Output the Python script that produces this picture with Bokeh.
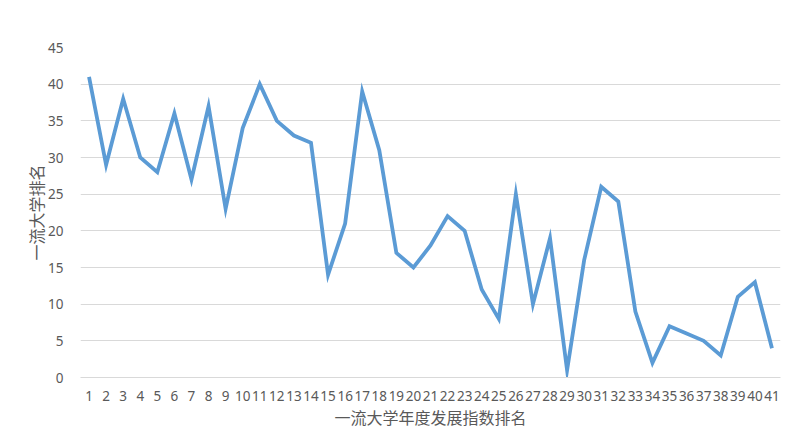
from bokeh.plotting import figure
from bokeh.models import FixedTicker, Range1d, ColumnDataSource
from bokeh.embed import file_html
from bokeh.resources import INLINE

index_rank = list(range(1, 42))
univ_rank = [41, 29, 38, 30, 28, 36, 27, 37, 23, 34, 40, 35, 33, 32, 14, 21, 39, 31,
             17, 15, 18, 22, 20, 12, 8, 25, 10, 19, 1, 16, 26, 24, 9, 2, 7, 6, 5, 3,
             11, 13, 4]
y_ticks = [0, 5, 10, 15, 20, 25, 30, 35, 40, 45]

src = ColumnDataSource(dict(x=index_rank, y=univ_rank))

p = figure(width=790, height=437, output_backend="svg", toolbar_location=None,
           x_range=Range1d(0.5, 41.5), y_range=Range1d(0, 45),
           min_border_left=80, min_border_right=10, min_border_top=47, min_border_bottom=60)
p.outline_line_color = None
p.background_fill_color = "white"

p.line("x", "y", source=src, line_color="#5B9BD5", line_width=3.8, line_join="miter")

grid_col = "#D9D9D9"
p.xgrid.visible = False
p.ygrid.grid_line_color = grid_col
p.ygrid.grid_line_width = 1.2
p.ygrid.ticker = FixedTicker(ticks=y_ticks)

p.xaxis.ticker = FixedTicker(ticks=index_rank)
p.yaxis.ticker = FixedTicker(ticks=y_ticks)
for ax in (p.xaxis[0], p.yaxis[0]):
    ax.major_tick_line_color = None
    ax.minor_tick_line_color = None
    ax.major_label_text_color = "#595959"
    ax.major_label_text_font = "Noto Sans"
    ax.major_label_text_font_size = "13.5px"
    ax.axis_label_text_color = "#595959"
    ax.axis_label_text_font = "Noto Sans CJK SC"
    ax.axis_label_text_font_size = "16px"
    ax.axis_label_text_font_style = "normal"
p.xaxis.axis_line_color = grid_col
p.xaxis.axis_line_width = 1.2
p.yaxis.axis_line_color = None
p.xaxis.major_label_standoff = 7
p.yaxis.major_label_standoff = 11
p.xaxis.axis_label = "一流大学年度发展指数排名"
p.yaxis.axis_label = "一流大学排名"
p.xaxis.axis_label_standoff = 1
p.yaxis.axis_label_standoff = -3

open("out.html", "w").write(file_html(p, INLINE))
